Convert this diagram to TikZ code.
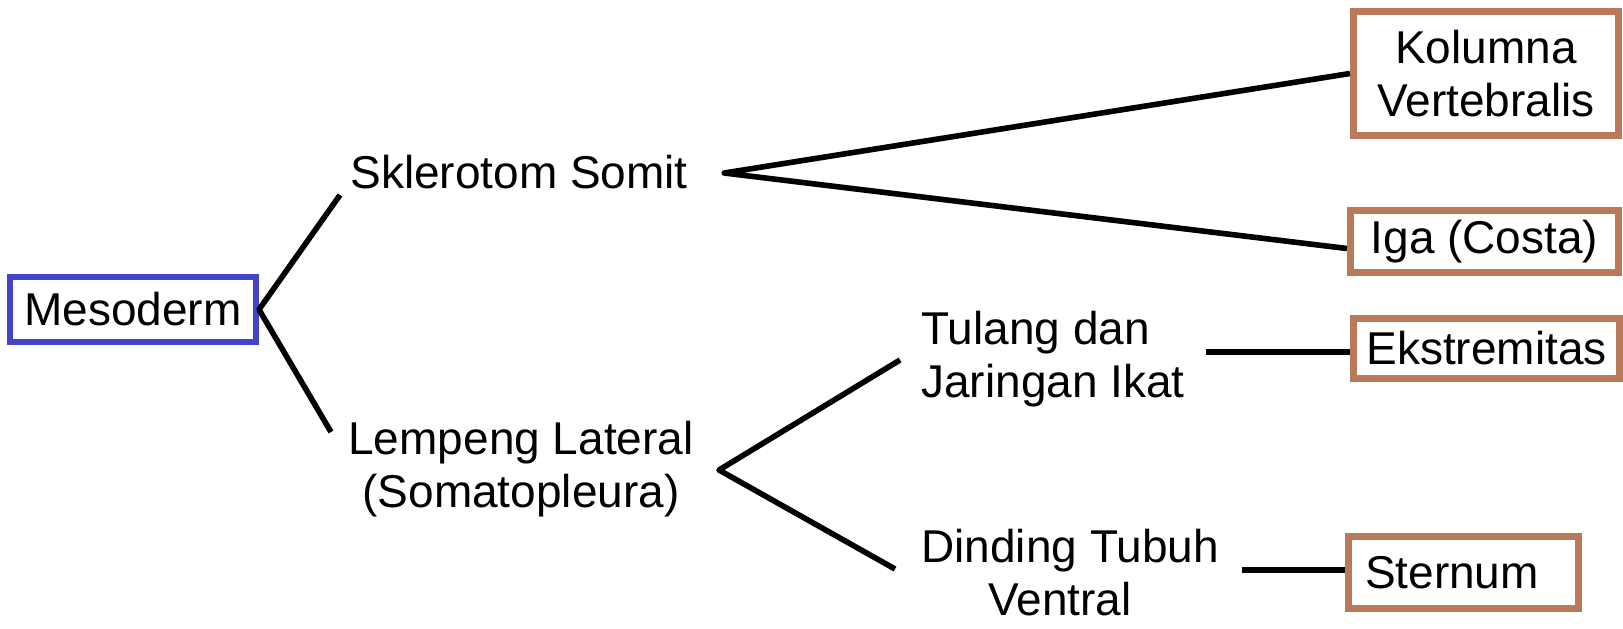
\documentclass[tikz,border=0pt]{standalone}
\usepackage{fontspec}
\setmainfont{Liberation Sans}
\definecolor{mblue}{RGB}{68,68,200}
\definecolor{mbrown}{RGB}{184,122,88}
\begin{document}
\begin{tikzpicture}[x=0.5pt,y=-0.5pt,
  every node/.style={font=\fontsize{23}{26.5}\selectfont, inner sep=0pt},
  lbl/.style={},
  mbox/.style={draw=mblue, line width=3pt},
  bbox/.style={draw=mbrown, line width=3.6pt, align=center},
  link/.style={line width=2.8pt, line join=round}]
\useasboundingbox (0,0) rectangle (1623,628);
% nodes
\node[mbox, minimum width=123pt, minimum height=32.5pt] (meso) at (133,309.5) {Mesoderm};
\node[lbl, anchor=base west] (skl) at (350,188) {Sklerotom Somit};
\node[lbl, align=center, anchor=base] (lemp) at (521,507) {Lempeng Lateral\\(Somatopleura)};
\node[lbl, align=left, anchor=base west] (tul) at (921,397) {Tulang dan\\Jaringan Ikat};
\node[lbl, align=center, anchor=base west] (din) at (921,615) {Dinding Tubuh\\Ventral\hspace*{10pt}};
\node[bbox, minimum width=132.5pt, minimum height=62pt] (kol) at (1486,73.5) {Kolumna\\Vertebralis};
\node[bbox, minimum width=134pt, minimum height=31pt] (iga) at (1484.5,241.5) {Iga (Costa)};
\node[bbox, minimum width=133pt, minimum height=30pt] (eks) at (1486.5,348.5) {Ekstremitas};
\node[bbox, text width=98.5pt, align=left, inner xsep=8.25pt, minimum height=36pt] (ste) at (1463.5,572.5) {Sternum};
% junction points
\coordinate (sklL) at ([shift={(-10,7)}]skl.base west);
\coordinate (sklR) at ([shift={(36,-15)}]skl.base east);
\coordinate (lempL) at ([shift={(-17,-75)}]lemp.base west);
\coordinate (lempR) at ([shift={(25,-37)}]lemp.base east);
\coordinate (tulL) at ([shift={(-21,-37)}]tul.base west);
\coordinate (tulR) at ([shift={(21,-45)}]tul.base east);
\coordinate (dinL) at ([shift={(-26,-46)}]din.base west);
\coordinate (dinR) at ([shift={(23,-45)}]din.base east);
% connectors
\draw[link] (sklL) -- (meso.east) -- (lempL);
\draw[link] (kol.west) -- (sklR) -- ([shift={(0,7)}]iga.west);
\draw[link] (tulL) -- (lempR) -- (dinL);
\draw[link] (tulR) -- ([shift={(0,3.5)}]eks.west);
\draw[link] (dinR) -- ([shift={(0,-2.5)}]ste.west);
\end{tikzpicture}
\end{document}
